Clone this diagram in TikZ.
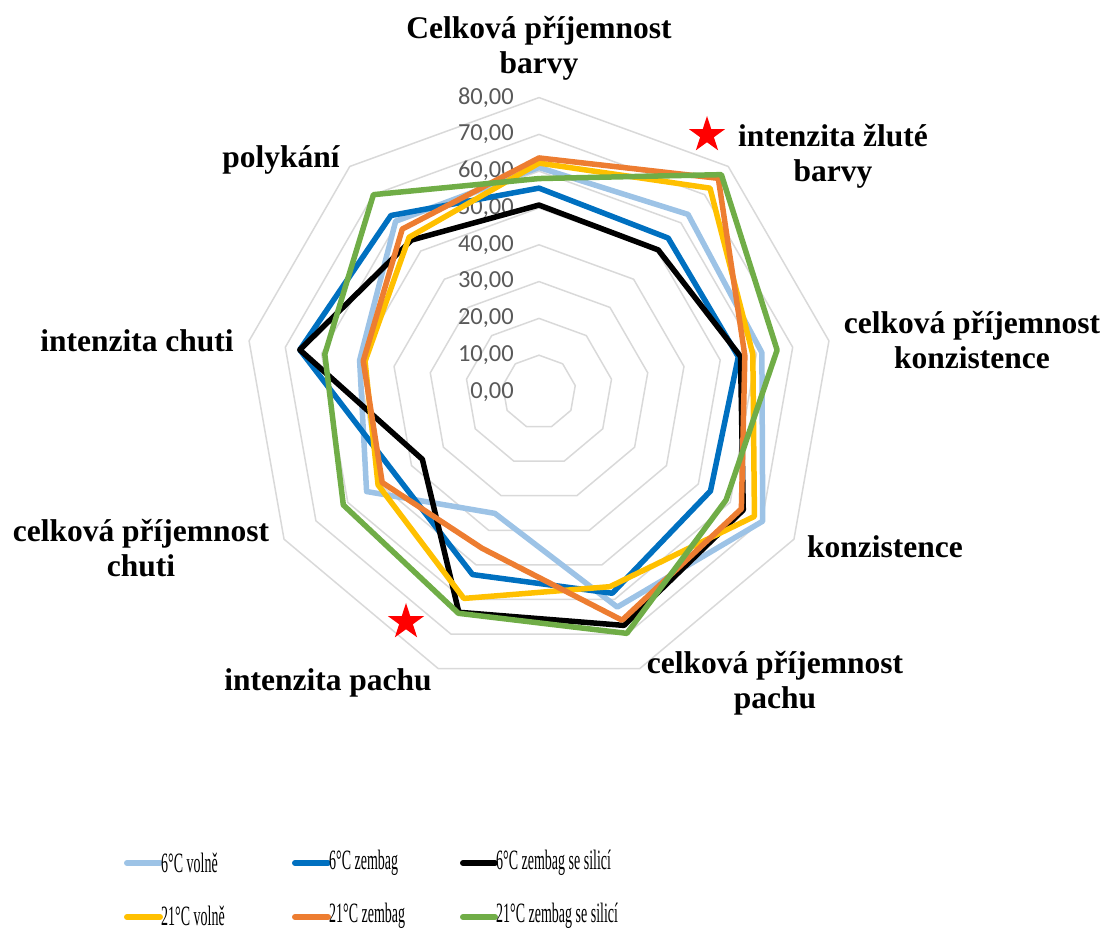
\documentclass[tikz,border=0pt]{standalone}
\usepackage{fontspec}
\setmainfont{Liberation Serif}
\newfontfamily\tickfont{Carlito}
\usepackage{graphicx}
\usetikzlibrary{shapes.geometric}
\definecolor{gridc}{HTML}{D9D9D9}
\definecolor{tickc}{HTML}{595959}
\definecolor{clb}{HTML}{9DC3E6}
\definecolor{cb}{HTML}{0070C0}
\definecolor{cy}{HTML}{FFC000}
\definecolor{co}{HTML}{ED7D31}
\definecolor{cg}{HTML}{70AD47}
\def\k{3.68}
\begin{document}
\begin{tikzpicture}[x=1pt,y=1pt,
  ring/.style={draw=gridc,line width=1.5pt},
  series/.style={line width=5.5pt,line join=round},
  axlabel/.style={font=\fontsize{31.5}{35}\selectfont\bfseries,align=center,inner sep=0pt},
  ticklab/.style={font=\tickfont\fontsize{24.5}{24.5}\selectfont,text=tickc,anchor=east,inner sep=0pt},
  legline/.style={line width=6pt,line cap=round},
  legtext/.style={anchor=west,inner sep=0pt,font=\fontsize{28}{28}\selectfont},
  redstar/.style={star,star points=5,star point ratio=2.618,fill=red,draw=none,minimum size=38pt,inner sep=0pt}]
\path[use as bounding box] (0,0) rectangle (1106,931);
\begin{scope}[shift={(539,539)}]
  % grid rings
  \foreach \v in {10,20,...,80}{
    \draw[ring] (90:{\v*\k}) \foreach \a in {50,10,...,-230}{ -- (\a:{\v*\k})} -- cycle;
  }
  % tick labels
  \foreach \v in {0,10,...,80}{
    \node[ticklab] (t\v) at (-25,{\v*\k}) {\v,00};
  }
  % series
  \draw[series,clb] (90:{61*\k}) -- (50:{63*\k}) -- (10:{61.5*\k}) -- (-30:{70.2*\k}) -- (-70:{62.2*\k}) -- (-110:{35.1*\k}) -- (-150:{54.1*\k}) -- (170:{49.5*\k}) -- (130:{60.6*\k}) -- cycle;
  \draw[series,cb] (90:{55.4*\k}) -- (50:{54.6*\k}) -- (10:{55*\k}) -- (-30:{53.8*\k}) -- (-70:{58.2*\k}) -- (-110:{52.8*\k}) -- (-150:{45*\k}) -- (170:{66*\k}) -- (130:{62.6*\k}) -- cycle;
  \draw[series,black] (90:{50.8*\k}) -- (50:{50.4*\k}) -- (10:{55.6*\k}) -- (-30:{64.1*\k}) -- (-70:{67.5*\k}) -- (-110:{63.7*\k}) -- (-150:{36.6*\k}) -- (170:{66*\k}) -- (130:{53.9*\k}) -- cycle;
  \draw[series,cy] (90:{62.2*\k}) -- (50:{72.3*\k}) -- (10:{59*\k}) -- (-30:{67.6*\k}) -- (-70:{56.3*\k}) -- (-110:{59.7*\k}) -- (-150:{50.5*\k}) -- (170:{48*\k}) -- (130:{54.9*\k}) -- cycle;
  \draw[series,co] (90:{63.6*\k}) -- (50:{75.8*\k}) -- (10:{56.8*\k}) -- (-30:{63.5*\k}) -- (-70:{66*\k}) -- (-110:{45.2*\k}) -- (-150:{49.2*\k}) -- (170:{48.5*\k}) -- (130:{57.8*\k}) -- cycle;
  \draw[series,cg] (90:{58*\k}) -- (50:{77.1*\k}) -- (10:{65.7*\k}) -- (-30:{58.7*\k}) -- (-70:{69.8*\k}) -- (-110:{64*\k}) -- (-150:{61.4*\k}) -- (170:{59.1*\k}) -- (130:{70*\k}) -- cycle;
\end{scope}
% axis labels
\node[axlabel] (a1) at (539,883) {Celková příjemnost\\barvy};
\node[axlabel] (a2) at (833,775) {intenzita žluté\\barvy};
\node[axlabel] (a3) at (972,591) {celková příjemnost\\konzistence};
\node[axlabel] (a4) at (885,384) {konzistence};
\node[axlabel] (a5) at (775,248) {celková příjemnost\\pachu};
\node[axlabel] (a6) at (328,248) {intenzita pachu};
\node[axlabel] (a7) at (141,383) {celková příjemnost\\chuti};
\node[axlabel] (a8) at (137,590) {intenzita chuti};
\node[axlabel] (a9) at (281,771) {polykání};
% stars
\node[redstar] (s1) at (707,796) {};
\node[redstar] (s2) at (406,309) {};
% legend
\coordinate (p1a) at (127,68); \coordinate (p1b) at (160,68);
\coordinate (p2a) at (295,68); \coordinate (p2b) at (328,68);
\coordinate (p3a) at (463,68); \coordinate (p3b) at (495,68);
\coordinate (p4a) at (127,14); \coordinate (p4b) at (160,14);
\coordinate (p5a) at (295,14); \coordinate (p5b) at (328,14);
\coordinate (p6a) at (463,14); \coordinate (p6b) at (495,14);
\draw[legline,clb] (p1a) -- (p1b);
\draw[legline,cb] (p2a) -- (p2b);
\draw[legline,black] (p3a) -- (p3b);
\draw[legline,cy] (p4a) -- (p4b);
\draw[legline,co] (p5a) -- (p5b);
\draw[legline,cg] (p6a) -- (p6b);
\node[legtext] (l1) at (161,68) {\scalebox{0.5}[1]{6°C volně}};
\node[legtext] (l2) at (329,68) {\scalebox{0.5}[1]{6°C zembag}};
\node[legtext] (l3) at (496,68) {\scalebox{0.5}[1]{6°C zembag se silicí}};
\node[legtext] (l4) at (161,15) {\scalebox{0.5}[1]{21°C volně}};
\node[legtext] (l5) at (329,15) {\scalebox{0.5}[1]{21°C zembag}};
\node[legtext] (l6) at (496,15) {\scalebox{0.5}[1]{21°C zembag se silicí}};
\end{tikzpicture}
\end{document}
